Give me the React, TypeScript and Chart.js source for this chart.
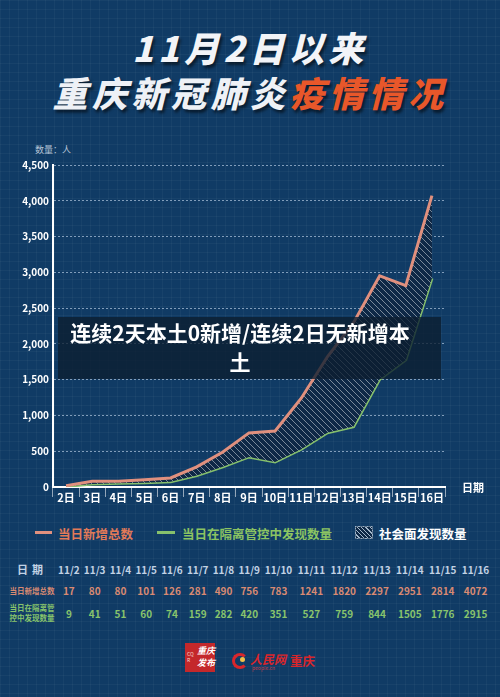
import React, { useEffect, useRef } from "react";
import { Chart, registerables } from "chart.js";

Chart.register(...registerables);

const categories = ["2日", "3日", "4日", "5日", "6日", "7日", "8日", "9日", "10日", "11日", "12日", "13日", "14日", "15日", "16日"];
const tableDates = ["11/2", "11/3", "11/4", "11/5", "11/6", "11/7", "11/8", "11/9", "11/10", "11/11", "11/12", "11/13", "11/14", "11/15", "11/16"];
const totalNew = [17, 80, 80, 101, 126, 281, 490, 756, 783, 1241, 1820, 2297, 2951, 2814, 4072];
const isolatedFound = [9, 41, 51, 60, 74, 159, 282, 420, 351, 527, 759, 844, 1505, 1776, 2915];
const yMax = 4500;
const yStep = 500;

const FONT = '"Noto Sans CJK SC", "Noto Sans", sans-serif';
const BG = "#103b65";
const ORANGE_LINE = "#e0907e";
const GREEN_LINE = "#86c06c";
const ORANGE_TEXT = "#e27a58";
const GREEN_TEXT = "#8cc462";
const TBL_ORANGE = "#d98a72";
const TBL_GREEN = "#88c46c";
const TBL_DATE = "#c2d2e4";

function makeHatch(ctx: CanvasRenderingContext2D) {
  const c = document.createElement("canvas");
  c.width = 6;
  c.height = 6;
  const g = c.getContext("2d")!;
  g.fillStyle = "#0e2846";
  g.fillRect(0, 0, 6, 6);
  g.strokeStyle = "rgba(255,255,255,0.45)";
  g.lineWidth = 1;
  g.beginPath();
  g.moveTo(0, 0);
  g.lineTo(6, 6);
  g.moveTo(-3, 3);
  g.lineTo(3, 9);
  g.moveTo(3, -3);
  g.lineTo(9, 3);
  g.stroke();
  return ctx.createPattern(c, "repeat")!;
}

function LineChart() {
  const ref = useRef<HTMLCanvasElement | null>(null);
  useEffect(() => {
    const canvas = ref.current!;
    const ctx = canvas.getContext("2d")!;
    const hatch = makeHatch(ctx);
    const chart = new Chart(ctx, {
      type: "line",
      data: {
        labels: categories,
        datasets: [
          {
            label: "当日新增总数",
            data: totalNew,
            borderColor: ORANGE_LINE,
            borderWidth: 3,
            pointRadius: 0,
            tension: 0,
            fill: { target: 1, above: hatch, below: hatch },
          },
          {
            label: "当日在隔离管控中发现数量",
            data: isolatedFound,
            borderColor: GREEN_LINE,
            borderWidth: 3,
            pointRadius: 0,
            tension: 0,
            fill: false,
          },
        ],
      },
      options: {
        responsive: false,
        animation: false,
        devicePixelRatio: 1,
        layout: { padding: { top: 25, right: 55, left: 0, bottom: 0 } },
        plugins: { legend: { display: false }, tooltip: { enabled: false } },
        scales: {
          x: {
            offset: true,
            afterFit: (s: any) => {
              s.height = 33;
            },
            border: { color: "#ffffff", width: 2 },
            grid: {
              display: true,
              drawOnChartArea: false,
              drawTicks: true,
              tickLength: 10,
              offset: true,
              color: "rgba(255,255,255,0.55)",
            },
            ticks: {
              color: "#ffffff",
              padding: -6,
              maxRotation: 0,
              autoSkip: false,
              font: { family: FONT, size: 11, weight: "bold" },
            },
          },
          y: {
            min: 0,
            max: yMax,
            afterFit: (s: any) => {
              s.width = 53;
            },
            border: { color: "#ffffff", width: 2, dash: [2, 2] },
            grid: {
              color: "rgba(190,210,232,0.65)",
              lineWidth: 1,
              drawTicks: false,
            },
            ticks: {
              stepSize: yStep,
              color: "#ffffff",
              padding: 4,
              font: { family: FONT, size: 10, weight: "bold" },
            },
          },
        },
      },
    } as any);
    return () => chart.destroy();
  }, []);
  return (
    <canvas
      ref={ref}
      width={500}
      height={380}
      style={{ position: "absolute", left: 0, top: 140, width: 500, height: 380 }}
    />
  );
}

const abs = (s: React.CSSProperties): React.CSSProperties => ({ position: "absolute", ...s });

export default function App() {
  const titleStyle: React.CSSProperties = {
    fontFamily: FONT,
    fontWeight: 900,
    fontStyle: "italic",
    fontSize: 35,
    letterSpacing: 4.5,
    lineHeight: "40px",
    whiteSpace: "nowrap",
    textShadow: "2px 3px 3px rgba(0,0,0,0.55)",
  };
  const cell: React.CSSProperties = { padding: 0, textAlign: "center" };
  return (
    <div
      style={{
        position: "fixed",
        left: 0,
        top: 0,
        width: 500,
        height: 697,
        overflow: "hidden",
        background: BG,
        backgroundImage:
          "linear-gradient(rgba(255,255,255,0.035) 1px, transparent 1px), linear-gradient(90deg, rgba(255,255,255,0.035) 1px, transparent 1px)",
        backgroundSize: "9px 9px",
        fontFamily: FONT,
      }}
    >
      <div style={abs({ left: 0, width: 500, top: 27, textAlign: "center", color: "#f2f4f8", ...titleStyle })}>
        11月2日以来
      </div>
      <div style={abs({ left: 0, width: 500, top: 72, textAlign: "center", ...titleStyle })}>
        <span style={{ color: "#eef1f6" }}>重庆新冠肺炎</span>
        <span style={{ color: "#e8572a" }}>疫情情况</span>
      </div>

      <div style={abs({ left: 35, top: 143, fontSize: 9, color: "#b4c4d6", whiteSpace: "nowrap" })}>数量：人</div>

      <LineChart />

      <div style={abs({ left: 462, top: 479, fontSize: 11, fontWeight: 700, color: "#ffffff" })}>日期</div>

      <div
        style={abs({
          left: 58,
          top: 317,
          width: 383,
          height: 62,
          background: "rgba(12,30,48,0.78)",
        })}
      />
      <div
        style={abs({
          left: 58,
          top: 318,
          width: 364,
          textAlign: "center",
          color: "#ffffff",
          fontWeight: 700,
          fontSize: 21,
          lineHeight: "29px",
          whiteSpace: "nowrap",
        })}
      >
        连续2天本土0新增/连续2日无新增本
        <br />土
      </div>

      {/* legend */}
      <div style={abs({ left: 35, top: 531, width: 17, height: 3, background: ORANGE_LINE })} />
      <div style={abs({ left: 58, top: 524, fontSize: 12.5, fontWeight: 700, color: ORANGE_TEXT, whiteSpace: "nowrap" })}>
        当日新增总数
      </div>
      <div style={abs({ left: 157, top: 531, width: 18, height: 3, background: GREEN_LINE })} />
      <div style={abs({ left: 182, top: 524, fontSize: 12.5, fontWeight: 700, color: GREEN_TEXT, whiteSpace: "nowrap" })}>
        当日在隔离管控中发现数量
      </div>
      <div
        style={abs({
          left: 355,
          top: 526,
          width: 18,
          height: 13,
          border: "1px solid rgba(150,170,190,0.6)",
          boxSizing: "border-box",
          background: "repeating-linear-gradient(45deg, #0e2846 0px, #0e2846 2px, rgba(200,215,230,0.8) 2px, rgba(200,215,230,0.8) 3px)",
        })}
      />
      <div style={abs({ left: 379, top: 524, fontSize: 12.5, fontWeight: 700, color: "#ffffff", whiteSpace: "nowrap" })}>
        社会面发现数量
      </div>

      {/* data table */}
      <table
        style={abs({
          left: 8,
          top: 558,
          width: 484,
          borderCollapse: "collapse",
          fontFamily: FONT,
          fontWeight: 700,
          fontSize: 10,
          whiteSpace: "nowrap",
        })}
      >
        <tbody>
          <tr style={{ height: 22 }}>
            <td style={{ ...cell, width: 48, color: TBL_DATE, fontSize: 11, letterSpacing: 4 }}>日期</td>
            {tableDates.map((d) => (
              <td key={d} style={{ ...cell, color: TBL_DATE }}>
                {d}
              </td>
            ))}
          </tr>
          <tr style={{ height: 21 }}>
            <td style={{ ...cell, width: 48, color: TBL_ORANGE, fontSize: 7.5 }}>当日新增总数</td>
            {totalNew.map((v, i) => (
              <td key={i} style={{ ...cell, color: TBL_ORANGE }}>
                {v}
              </td>
            ))}
          </tr>
          <tr style={{ height: 24 }}>
            <td style={{ ...cell, width: 48, color: TBL_GREEN, fontSize: 7.5, lineHeight: "10px" }}>
              当日在隔离管
              <br />
              控中发现数量
            </td>
            {isolatedFound.map((v, i) => (
              <td key={i} style={{ ...cell, color: TBL_GREEN }}>
                {v}
              </td>
            ))}
          </tr>
        </tbody>
      </table>

      {/* logos */}
      <div style={abs({ left: 185, top: 643, width: 30, height: 29, background: "#c4282b" })}>
        <div style={abs({ left: 2, top: 8, fontSize: 5, color: "#f3d6d0", lineHeight: "6px" })}>
          CQ
          <br />R
        </div>
        <div
          style={abs({
            left: 12,
            top: 2,
            fontSize: 9,
            lineHeight: "12px",
            color: "#ffffff",
            fontStyle: "italic",
            fontWeight: 700,
            width: 18,
            whiteSpace: "normal",
          })}
        >
          重庆发布
        </div>
      </div>
      <div
        style={abs({
          left: 232,
          top: 653,
          width: 10,
          height: 10,
          borderRadius: "50%",
          border: "3px solid #d8262c",
          borderRightColor: "transparent",
        })}
      />
      <div style={abs({ left: 240, top: 657, width: 5, height: 5, borderRadius: "50%", background: "#f1c24a" })} />
      <div style={abs({ left: 250, top: 650, fontSize: 12, color: "#d8262c", fontStyle: "italic", fontWeight: 700 })}>人民网</div>
      <div style={abs({ left: 252, top: 664, fontSize: 5, color: "#c0404a" })}>people.cn</div>
      <div style={abs({ left: 290, top: 651, fontSize: 12.5, color: "#d8262c", fontWeight: 700 })}>重庆</div>
    </div>
  );
}
